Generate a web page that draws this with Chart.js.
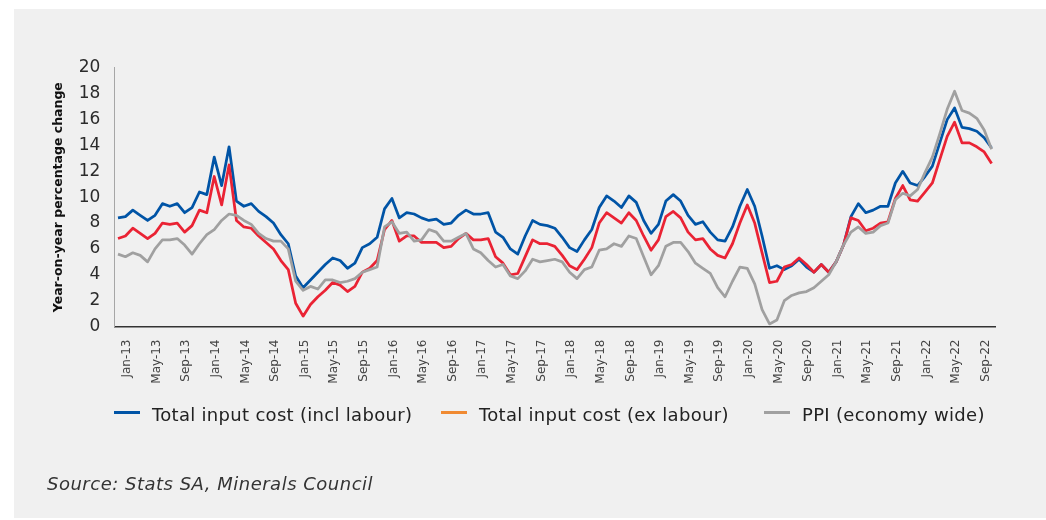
<!DOCTYPE html>
<html>
<head>
<meta charset="utf-8">
<title>Input cost inflation</title>
<script src="https://cdn.jsdelivr.net/npm/chart.js"></script>
<style>
  body { margin: 0; background: #fff; width: 1046px; height: 520px; overflow: hidden; position: relative; font-family: "DejaVu Sans", sans-serif; }
  #panel { position: absolute; left: 14px; top: 9px; width: 1032px; height: 509px; background: #f0f0f0; }
  #costchart { position: absolute; left: 0; top: 0; }
  #legend { position: absolute; left: 0; top: 404px; width: 1046px; height: 20px; }
  .item { position: absolute; top: 0; height: 20px; display: flex; align-items: center; font-size: 18px; letter-spacing: 0.3px; color: #222; white-space: nowrap; }
  .swatch { width: 26px; height: 3px; margin-right: 12px; position: relative; top: -2px; }
  #source { position: absolute; left: 47px; top: 474px; font-size: 18px; letter-spacing: 0.5px; font-style: italic; color: #333; line-height: 20px; }
</style>
</head>
<body>
<div id="panel"></div>
<canvas id="costchart" width="1046" height="520"></canvas>
<div id="legend"></div>
<div id="source">Source: Stats SA, Minerals Council</div>

<script>
// monthly, Jan-13 .. Nov-22
const months = [
    'Jan-13', 'Feb-13', 'Mar-13', 'Apr-13', 'May-13', 'Jun-13', 'Jul-13', 'Aug-13', 'Sep-13', 'Oct-13', 'Nov-13', 'Dec-13',
    'Jan-14', 'Feb-14', 'Mar-14', 'Apr-14', 'May-14', 'Jun-14', 'Jul-14', 'Aug-14', 'Sep-14', 'Oct-14', 'Nov-14', 'Dec-14',
    'Jan-15', 'Feb-15', 'Mar-15', 'Apr-15', 'May-15', 'Jun-15', 'Jul-15', 'Aug-15', 'Sep-15', 'Oct-15', 'Nov-15', 'Dec-15',
    'Jan-16', 'Feb-16', 'Mar-16', 'Apr-16', 'May-16', 'Jun-16', 'Jul-16', 'Aug-16', 'Sep-16', 'Oct-16', 'Nov-16', 'Dec-16',
    'Jan-17', 'Feb-17', 'Mar-17', 'Apr-17', 'May-17', 'Jun-17', 'Jul-17', 'Aug-17', 'Sep-17', 'Oct-17', 'Nov-17', 'Dec-17',
    'Jan-18', 'Feb-18', 'Mar-18', 'Apr-18', 'May-18', 'Jun-18', 'Jul-18', 'Aug-18', 'Sep-18', 'Oct-18', 'Nov-18', 'Dec-18',
    'Jan-19', 'Feb-19', 'Mar-19', 'Apr-19', 'May-19', 'Jun-19', 'Jul-19', 'Aug-19', 'Sep-19', 'Oct-19', 'Nov-19', 'Dec-19',
    'Jan-20', 'Feb-20', 'Mar-20', 'Apr-20', 'May-20', 'Jun-20', 'Jul-20', 'Aug-20', 'Sep-20', 'Oct-20', 'Nov-20', 'Dec-20',
    'Jan-21', 'Feb-21', 'Mar-21', 'Apr-21', 'May-21', 'Jun-21', 'Jul-21', 'Aug-21', 'Sep-21', 'Oct-21', 'Nov-21', 'Dec-21',
    'Jan-22', 'Feb-22', 'Mar-22', 'Apr-22', 'May-22', 'Jun-22', 'Jul-22', 'Aug-22', 'Sep-22', 'Oct-22', 'Nov-22'
];

const inclLabour = [
    8.4, 8.5, 9.0, 8.6, 8.2, 8.6, 9.5, 9.3, 9.5, 8.8, 9.2, 10.4,
    10.2, 13.1, 10.9, 13.9, 9.7, 9.3, 9.5, 8.9, 8.5, 8.0, 7.1, 6.4,
    3.9, 3.0, 3.6, 4.2, 4.8, 5.3, 5.1, 4.5, 4.9, 6.1, 6.4, 6.9,
    9.1, 9.9, 8.4, 8.8, 8.7, 8.4, 8.2, 8.3, 7.9, 8.0, 8.6, 9.0,
    8.7, 8.7, 8.8, 7.3, 6.9, 6.0, 5.6, 7.0, 8.2, 7.9, 7.8, 7.6,
    6.9, 6.1, 5.8, 6.7, 7.5, 9.2, 10.1, 9.7, 9.2, 10.1, 9.6, 8.2,
    7.2, 7.9, 9.7, 10.2, 9.7, 8.6, 7.9, 8.1, 7.3, 6.7, 6.6, 7.7,
    9.3, 10.6, 9.3, 7.0, 4.5, 4.7, 4.4, 4.7, 5.2, 4.6, 4.2, 4.8,
    4.2, 5.0, 6.3, 8.5, 9.5, 8.8, 9.0, 9.3, 9.3, 11.1, 12.0, 11.1,
    10.9, 11.6, 12.4, 14.2, 16.0, 16.9, 15.4, 15.3, 15.1, 14.6, 13.8
];

const exLabour = [
    6.8, 7.0, 7.6, 7.2, 6.8, 7.2, 8.0, 7.9, 8.0, 7.3, 7.8, 9.0,
    8.8, 11.6, 9.4, 12.5, 8.2, 7.7, 7.6, 7.0, 6.5, 6.0, 5.1, 4.4,
    1.8, 0.8, 1.7, 2.3, 2.8, 3.4, 3.2, 2.7, 3.1, 4.2, 4.5, 5.1,
    7.5, 8.2, 6.6, 7.0, 7.0, 6.5, 6.5, 6.5, 6.1, 6.2, 6.8, 7.2,
    6.7, 6.7, 6.8, 5.4, 4.9, 4.0, 4.1, 5.4, 6.7, 6.4, 6.4, 6.2,
    5.5, 4.7, 4.4, 5.2, 6.1, 8.0, 8.8, 8.4, 8.0, 8.8, 8.2, 7.0,
    5.9, 6.7, 8.5, 8.9, 8.4, 7.3, 6.7, 6.8, 6.0, 5.5, 5.3, 6.4,
    8.0, 9.4, 8.0, 5.7, 3.4, 3.5, 4.6, 4.8, 5.3, 4.8, 4.2, 4.8,
    4.2, 5.0, 6.3, 8.4, 8.2, 7.4, 7.6, 8.0, 8.1, 9.9, 10.9, 9.8,
    9.7, 10.4, 11.1, 12.9, 14.7, 15.8, 14.2, 14.2, 13.9, 13.5, 12.6
];

const ppi = [
    5.6, 5.4, 5.7, 5.5, 5.0, 6.0, 6.7, 6.7, 6.8, 6.3, 5.6, 6.4,
    7.1, 7.5, 8.2, 8.7, 8.6, 8.2, 7.9, 7.2, 6.8, 6.6, 6.6, 6.0,
    3.5, 2.8, 3.1, 2.9, 3.6, 3.6, 3.4, 3.5, 3.7, 4.2, 4.4, 4.6,
    7.7, 8.1, 7.2, 7.3, 6.6, 6.7, 7.5, 7.3, 6.6, 6.6, 6.9, 7.2,
    6.0, 5.7, 5.1, 4.6, 4.8, 3.9, 3.7, 4.3, 5.2, 5.0, 5.1, 5.2,
    5.0, 4.2, 3.7, 4.4, 4.6, 5.9, 6.0, 6.4, 6.2, 7.0, 6.8, 5.4,
    4.0, 4.7, 6.2, 6.5, 6.5, 5.8, 4.9, 4.5, 4.1, 3.0, 2.3, 3.5,
    4.6, 4.5, 3.3, 1.3, 0.2, 0.5, 2.0, 2.4, 2.6, 2.7, 3.0, 3.5,
    4.0, 5.0, 6.3, 7.3, 7.7, 7.2, 7.3, 7.8, 8.0, 9.8, 10.3, 10.1,
    10.6, 11.9, 13.1, 14.9, 16.8, 18.2, 16.7, 16.5, 16.1, 15.2, 13.7
];

const seriesNames = ['Total input cost (incl labour)', 'Total input cost (ex labour)', 'PPI (economy wide)'];
const lineColors = ['#0054a6', '#ea2334', '#a0a0a0'];
const legendColors = ['#0054a6', '#f08a32', '#a0a0a0'];
const legendLeft = [114, 441, 764];

const fontFamily = '"DejaVu Sans", sans-serif';

const ctx = document.getElementById('costchart').getContext('2d');
const costChart = new Chart(ctx, {
    type: 'line',
    data: {
        labels: months,
        datasets: [
            { label: seriesNames[0], data: inclLabour, borderColor: lineColors[0], backgroundColor: lineColors[0], order: 3 },
            { label: seriesNames[1], data: exLabour, borderColor: lineColors[1], backgroundColor: lineColors[1], order: 2 },
            { label: seriesNames[2], data: ppi, borderColor: lineColors[2], backgroundColor: lineColors[2], order: 1 }
        ]
    },
    options: {
        responsive: false,
        animation: false,
        events: [],
        layout: { padding: { left: 46.8, top: 67.9, right: 50.7, bottom: 133.5 } },
        elements: {
            line: { borderWidth: 2.75, tension: 0, borderJoinStyle: 'round' },
            point: { radius: 0 }
        },
        plugins: {
            legend: { display: false },
            tooltip: { enabled: false }
        },
        scales: {
            x: {
                offset: true,
                grid: { display: false, drawTicks: false },
                border: { display: true, color: '#333', width: 1.5 },
                ticks: {
                    autoSkip: false,
                    minRotation: 90,
                    maxRotation: 90,
                    padding: 13,
                    labelOffset: 9,
                    color: '#444',
                    font: { family: fontFamily, size: 12 },
                    callback: function (value, index) {
                        return index % 4 === 0 ? this.getLabelForValue(value) : null;
                    }
                },
                afterFit: function (scale) { scale.height = 60; }
            },
            y: {
                min: 0,
                max: 20,
                grid: { display: false, drawTicks: false },
                border: { display: true, color: '#a6a6a6', width: 1 },
                ticks: { stepSize: 2, padding: 14, color: '#2b2b2b', font: { family: fontFamily, size: 17 } },
                title: {
                    display: true,
                    text: 'Year-on-year percentage change',
                    color: '#111',
                    font: { family: fontFamily, size: 12.5, weight: 'bold' },
                    padding: { top: 4, bottom: 4 }
                },
                afterFit: function (scale) { scale.width = 67.5; }
            }
        }
    }
});

// legend built from the chart's own datasets
const legendBox = document.getElementById('legend');
costChart.data.datasets.forEach(function (ds, i) {
    const item = document.createElement('div');
    item.className = 'item';
    item.style.left = legendLeft[i] + 'px';
    const swatch = document.createElement('span');
    swatch.className = 'swatch';
    swatch.style.background = legendColors[i];
    const text = document.createElement('span');
    text.textContent = ds.label;
    item.appendChild(swatch);
    item.appendChild(text);
    legendBox.appendChild(item);
});
</script>
</body>
</html>
